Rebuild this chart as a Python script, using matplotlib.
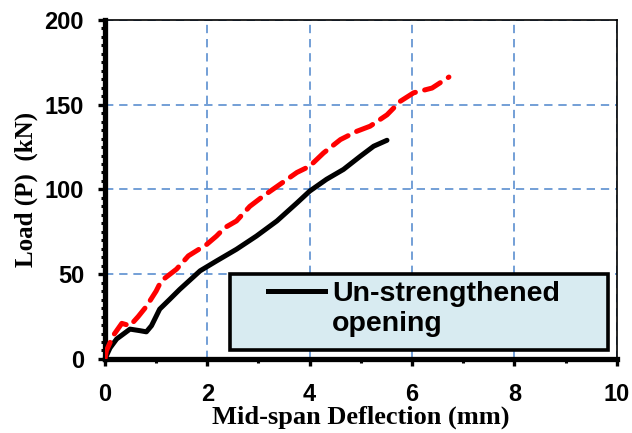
import numpy as np
import matplotlib.pyplot as plt
from matplotlib.patches import Rectangle
from matplotlib.lines import Line2D
from matplotlib.ticker import MultipleLocator

# strengthened opening (red dashed)
red_x = [0.0, 0.03, 0.16, 0.33, 0.49, 0.65, 0.81, 1.0, 1.1, 1.4, 1.63, 1.99, 2.18, 2.34,
         2.57, 2.83, 3.09, 3.42, 3.75, 4.0, 4.27, 4.6, 4.92, 5.18, 5.51, 5.77, 6.03, 6.39, 6.72]
red_y = [0.0, 4.9, 13.7, 21.0, 19.6, 25.0, 31.0, 40.0, 46.0, 53.0, 60.8, 67.6, 72.5, 77.4,
         81.4, 90.0, 96.0, 103.0, 110.0, 113.7, 121.5, 129.4, 134.3, 137.3, 144.0, 152.0, 157.0, 159.8, 166.3]

# un-strengthened opening (black)
blk_x = [0.0, 0.1, 0.23, 0.49, 0.68, 0.81, 0.91, 1.07, 1.27, 1.46, 1.86, 2.18, 2.57, 2.96, 3.36,
         3.75, 4.0, 4.33, 4.66, 4.99, 5.25, 5.51]
blk_y = [0.0, 6.5, 11.8, 17.6, 16.7, 16.0, 19.6, 29.4, 35.3, 41.0, 52.0, 57.8, 64.7, 72.5, 81.4,
         92.0, 99.0, 106.0, 111.8, 119.6, 125.5, 129.0]

legend_label = 'Un-strengthened'
legend_label2 = 'opening'

fig = plt.figure(figsize=(6.32, 4.33), dpi=100)
ax = fig.add_axes([0.166, 0.171, 0.810, 0.783])

ax.plot(blk_x, blk_y, color='black', lw=3.6, solid_capstyle='round', zorder=3)
ax.plot(red_x, red_y, color='#ff0000', lw=3.6, dashes=(3.5, 1.9),
        dash_capstyle='round', zorder=4)

ax.set_xlim(0, 10)
ax.set_ylim(0, 200)
ax.xaxis.set_major_locator(MultipleLocator(2))
ax.xaxis.set_minor_locator(MultipleLocator(1))
ax.yaxis.set_major_locator(MultipleLocator(50))
ax.yaxis.set_minor_locator(MultipleLocator(5))
ax.grid(True, which='major', color='#5b8fd0', lw=1.2, ls=(0, (5, 3.5)))
ax.set_axisbelow(True)

for s in ['left', 'bottom']:
    ax.spines[s].set_linewidth(3.8)
for s in ['top', 'right']:
    ax.spines[s].set_linewidth(1.2)

ax.tick_params(which='major', direction='out', length=5, width=2.4, pad=10)
ax.tick_params(which='minor', direction='out', length=3, width=2.2)
ax.tick_params(axis='x', which='major', pad=12)
for lab in ax.get_xticklabels() + ax.get_yticklabels():
    lab.set_fontfamily('Liberation Sans')
    lab.set_fontweight('bold')
    lab.set_fontsize(17)

ax.set_xlabel('Mid-span Deflection (mm)', family='Liberation Serif', weight='bold',
              fontsize=19, labelpad=0)
ax.set_ylabel('Load (P)  (kN)', family='Liberation Serif', weight='bold',
              fontsize=18, labelpad=5)

# legend box
box = Rectangle((0.244, 0.025), 0.738, 0.226, transform=ax.transAxes,
                facecolor='#d8ebf1', edgecolor='black', lw=2.6, zorder=6)
ax.add_patch(box)
handles = [Line2D([], [], color='black', lw=3.6),
           Line2D([], [], color='none')]
leg = ax.legend(handles, [legend_label, legend_label2], loc='upper left',
                bbox_to_anchor=(0.318, 0.23), frameon=False, borderpad=0,
                borderaxespad=0, handlelength=2.0, handletextpad=0.25, labelspacing=0.15,
                prop={'family': 'Liberation Sans', 'weight': 'bold', 'size': 20.5})
leg.set_zorder(7)

fig.savefig('out.png', dpi=100)
